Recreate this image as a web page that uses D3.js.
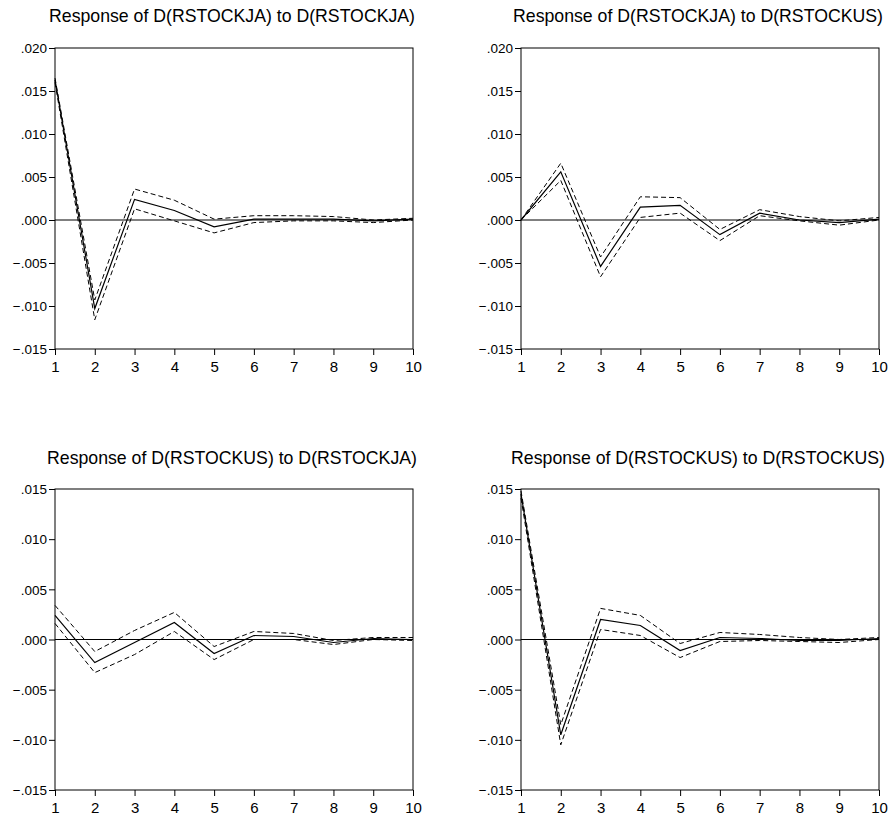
<!DOCTYPE html>
<html>
<head>
<meta charset="utf-8">
<script src="https://cdn.jsdelivr.net/npm/d3@7"></script>
<style>
  body { margin: 0; background: #fff; }
  svg text { font-family: "Liberation Sans", Arial, sans-serif; fill: #000; }
  .axis path, .axis line { stroke: #000; }
</style>
</head>
<body>
<svg id="chart" width="890" height="818"></svg>
<script>
// periods on the x axis
var periods = [1, 2, 3, 4, 5, 6, 7, 8, 9, 10];

// panel titles
var titles = [
  "Response of D(RSTOCKJA) to D(RSTOCKJA)",
  "Response of D(RSTOCKJA) to D(RSTOCKUS)",
  "Response of D(RSTOCKUS) to D(RSTOCKJA)",
  "Response of D(RSTOCKUS) to D(RSTOCKUS)"
];

// y tick values for top and bottom rows
var yTicksTop = [-0.015, -0.010, -0.005, 0.000, 0.005, 0.010, 0.015, 0.020];
var yTicksBottom = [-0.015, -0.010, -0.005, 0.000, 0.005, 0.010, 0.015];

// JA to JA
var jaJa = [0.0163, -0.0103, 0.0024, 0.0011, -0.0008, 0.0001, 0.0001, 0.0001, -0.0001, 0.0001];
var jaJaUp = [0.0165, -0.0093, 0.0036, 0.0023, 0.0001, 0.0005, 0.0005, 0.0004, 0.0000, 0.0002];
var jaJaLo = [0.0160, -0.0116, 0.0013, -0.0001, -0.0015, -0.0003, -0.0001, -0.0001, -0.0003, 0.0000];

// JA to US
var jaUs = [0.0000, 0.0056, -0.0054, 0.0015, 0.0017, -0.0017, 0.0008, 0.0000, -0.0003, 0.0001];
var jaUsUp = [0.0000, 0.0066, -0.0043, 0.0027, 0.0026, -0.0011, 0.0012, 0.0004, -0.0001, 0.0003];
var jaUsLo = [0.0000, 0.0046, -0.0066, 0.0003, 0.0008, -0.0024, 0.0005, -0.0001, -0.0006, 0.0000];

// US to JA
var usJa = [0.0024, -0.0023, -0.0003, 0.0017, -0.0014, 0.0004, 0.0003, -0.0003, 0.0001, 0.0000];
var usJaUp = [0.0034, -0.0012, 0.0009, 0.0027, -0.0007, 0.0008, 0.0006, -0.0001, 0.0002, 0.0002];
var usJaLo = [0.0016, -0.0033, -0.0015, 0.0008, -0.0020, 0.0000, 0.0000, -0.0005, 0.0000, -0.0001];

// US to US
var usUs = [0.0145, -0.0095, 0.0020, 0.0014, -0.0011, 0.0002, 0.0001, -0.0001, -0.0001, 0.0001];
var usUsUp = [0.0148, -0.0085, 0.0031, 0.0024, -0.0004, 0.0007, 0.0005, 0.0002, 0.0000, 0.0002];
var usUsLo = [0.0141, -0.0105, 0.0010, 0.0004, -0.0018, -0.0002, -0.0001, -0.0002, -0.0003, 0.0000];

var panels = [
  { title: titles[0], left: 55, top: 48, titleY: -26, ticks: yTicksTop, mid: jaJa, up: jaJaUp, lo: jaJaLo },
  { title: titles[1], left: 521, top: 48, titleY: -26, ticks: yTicksTop, mid: jaUs, up: jaUsUp, lo: jaUsLo },
  { title: titles[2], left: 55, top: 489, titleY: -25, ticks: yTicksBottom, mid: usJa, up: usJaUp, lo: usJaLo },
  { title: titles[3], left: 521, top: 489, titleY: -25, ticks: yTicksBottom, mid: usUs, up: usUsUp, lo: usUsLo }
];

var widthP = 358, heightP = 301;
var svg = d3.select("#chart");

// ".020" style labels
var fmt = function(d) { return d3.format(".3f")(d).replace("0.", "."); };

panels.forEach(function(p) {
  var g = svg.append("g").attr("transform", "translate(" + p.left + "," + p.top + ")");

  var x = d3.scaleLinear().domain([1, 10]).range([0, widthP]);
  var y = d3.scaleLinear().domain([d3.min(p.ticks), d3.max(p.ticks)]).range([heightP, 0]);

  // title
  g.append("text")
    .attr("x", widthP / 2 - 2)
    .attr("y", p.titleY)
    .attr("text-anchor", "middle")
    .style("font-size", "17.7px")
    .text(p.title);

  // box
  g.append("rect")
    .attr("width", widthP)
    .attr("height", heightP)
    .attr("fill", "none")
    .attr("stroke", "#000")
    .attr("stroke-width", 1);

  // axes
  g.append("g")
    .attr("class", "axis")
    .attr("transform", "translate(0," + heightP + ")")
    .call(d3.axisBottom(x).tickValues(periods).tickSize(6).tickPadding(6).tickSizeOuter(0).tickFormat(d3.format("d")))
    .call(function(a) { a.select(".domain").remove(); })
    .selectAll("text").style("font-size", "15px").attr("dy", "0.71em");

  g.append("g")
    .attr("class", "axis")
    .call(d3.axisLeft(y).tickValues(p.ticks).tickSize(6).tickPadding(2).tickSizeOuter(0).tickFormat(fmt))
    .call(function(a) { a.select(".domain").remove(); })
    .selectAll("text").style("font-size", "13.5px").attr("dy", "0.35em");

  // zero line
  g.append("line")
    .attr("x1", 0).attr("x2", widthP)
    .attr("y1", y(0)).attr("y2", y(0))
    .attr("stroke", "#000").attr("stroke-width", 1);

  var line = d3.line()
    .x(function(d, i) { return x(periods[i]); })
    .y(function(d) { return y(d); });

  g.append("path").attr("d", line(p.up))
    .attr("fill", "none").attr("stroke", "#000").attr("stroke-width", 1)
    .attr("stroke-dasharray", "5,3");
  g.append("path").attr("d", line(p.lo))
    .attr("fill", "none").attr("stroke", "#000").attr("stroke-width", 1)
    .attr("stroke-dasharray", "5,3");
  g.append("path").attr("d", line(p.mid))
    .attr("fill", "none").attr("stroke", "#000").attr("stroke-width", 1.2);
});
</script>
</body>
</html>
